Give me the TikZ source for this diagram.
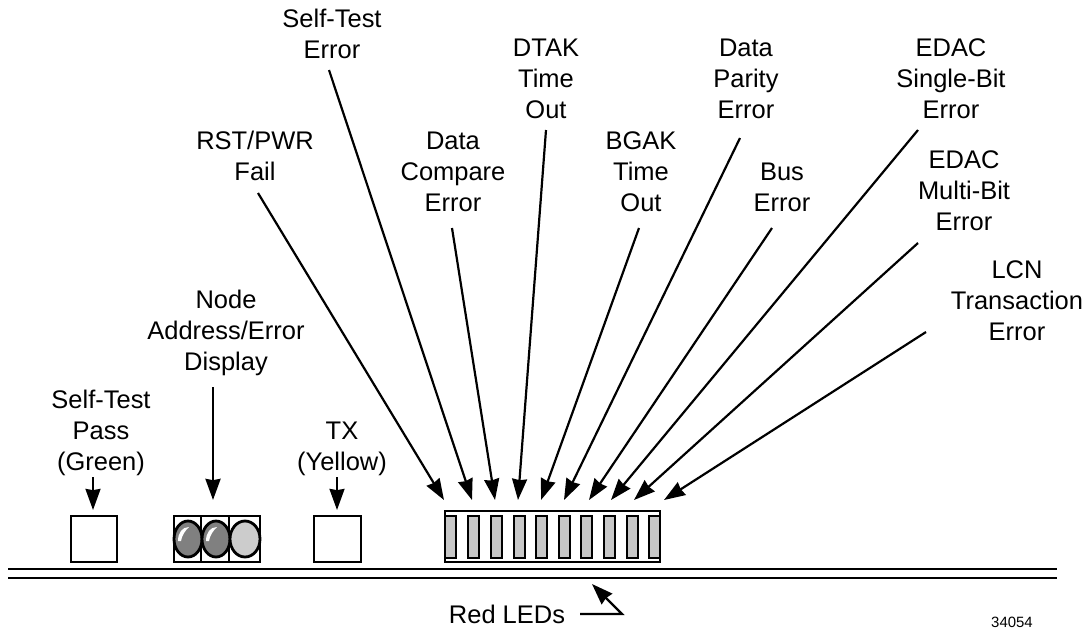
\documentclass[tikz,border=0pt]{standalone}
\usepackage{fontspec}
\setmainfont{Liberation Sans}
\usetikzlibrary{arrows.meta}
\tikzset{
  lab/.style={align=center,inner sep=0pt,anchor=base,font=\fontsize{14.5}{17.4}\selectfont},
  lead/.style={line width=1.25pt,-{Stealth[length=12pt,width=8.5pt,inset=0.7pt]}},
  outl/.style={draw=black,line width=1.25pt},
  ledbar/.style={outl,fill=black!22,line width=1.4pt},
  lamp/.style={outl,line width=1.6pt}
}
\begin{document}
\begin{tikzpicture}[x=0.02cm,y=-0.02cm]
\useasboundingbox (0,0) rectangle (1092,630);
%% labels
\node[lab] (selfpass) at (101,470) {Self-Test\\Pass\\(Green)};
\node[lab] (display) at (226,370) {Node\\Address/Error\\Display};
\node[lab] (tx) at (342,470) {TX\\(Yellow)};
\node[lab] (rstfail) at (255,180) {RST/PWR\\Fail};
\node[lab] (selferr) at (332,58) {Self-Test\\Error};
\node[lab] (compare) at (453,211) {Data\\Compare\\Error};
\node[lab] (dtak) at (546,118) {DTAK\\Time\\Out};
\node[lab] (bgak) at (641,211) {BGAK\\Time\\Out};
\node[lab] (parity) at (746,118) {Data\\Parity\\Error};
\node[lab] (buserr) at (782,211) {Bus\\Error};
\node[lab] (single) at (951,118) {EDAC\\Single-Bit\\Error};
\node[lab] (multi) at (964,230) {EDAC\\Multi-Bit\\Error};
\node[lab] (lcn) at (1017,340) {LCN\\Transaction\\Error};
\node[lab] (redleds) at (507,623) {Red LEDs};
\node[inner sep=0pt,anchor=base,font=\fontsize{8.5}{10}\selectfont] (partno) at (1012,627) {34054};
%% line ends
\coordinate (rstT) at (258,193);
\coordinate (rstH) at (444,500);
\coordinate (selfT) at (329,70);
\coordinate (selfH) at (472,500);
\coordinate (compT) at (452,228);
\coordinate (compH) at (495,500);
\coordinate (dtakT) at (546,130);
\coordinate (dtakH) at (518,500);
\coordinate (bgakT) at (639,228);
\coordinate (bgakH) at (541,500);
\coordinate (parT) at (740,138);
\coordinate (parH) at (564,500);
\coordinate (busT) at (772,228);
\coordinate (busH) at (589,500);
\coordinate (singT) at (918,130);
\coordinate (singH) at (611,500);
\coordinate (multT) at (918,243);
\coordinate (multH) at (634,500);
\coordinate (lcnT) at (926,332);
\coordinate (lcnH) at (664,500);
\coordinate (passT) at (93,477);
\coordinate (passH) at (93,510);
\coordinate (dispT) at (213,387);
\coordinate (dispH) at (213,500);
\coordinate (txT) at (337,477);
\coordinate (txH) at (337,510);
\coordinate (redT) at (580,614);
\coordinate (redB) at (622,614);
\coordinate (redH) at (592,584);
%% arrows
\draw[lead] (rstT) -- (rstH);
\draw[lead] (selfT) -- (selfH);
\draw[lead] (compT) -- (compH);
\draw[lead] (dtakT) -- (dtakH);
\draw[lead] (bgakT) -- (bgakH);
\draw[lead] (parT) -- (parH);
\draw[lead] (busT) -- (busH);
\draw[lead] (singT) -- (singH);
\draw[lead] (multT) -- (multH);
\draw[lead] (lcnT) -- (lcnH);
\draw[lead] (passT) -- (passH);
\draw[lead,line width=1.5pt] (dispT) -- (dispH);
\draw[lead] (txT) -- (txH);
\draw[lead] (redT) -- (redB) -- (redH);
%% panel edge
\draw[line width=1.3pt] (8,569) -- (1057,569);
\draw[line width=1.3pt] (8,578) -- (1057,578);
%% lamps
\draw[outl] (71,516) rectangle (117,562);
\draw[outl] (314,516) rectangle (361,562);
\draw[outl] (174,516) rectangle (260,562);
\draw[outl] (201,516) -- (201,562);
\draw[outl] (229,516) -- (229,562);
\draw[lamp,fill=black!50] (188,539) ellipse (14 and 18);
\draw[lamp,fill=black!50] (216,539) ellipse (14 and 18);
\draw[lamp,fill=black!20] (245,539) ellipse (15 and 18);
\fill[white] (178,541) .. controls (178,533) and (182,527) .. (189,527) .. controls (185,531) and (182,535) .. (181,541) -- cycle;
\fill[white] (206,541) .. controls (206,533) and (210,527) .. (217,527) .. controls (213,531) and (210,535) .. (209,541) -- cycle;
%% led block
\draw[outl] (445,511) rectangle (660,562);
\draw[ledbar] (445,516) rectangle (456,558);
\draw[ledbar] (468,516) rectangle (479,558);
\draw[ledbar] (491,516) rectangle (502,558);
\draw[ledbar] (514,516) rectangle (525,558);
\draw[ledbar] (536,516) rectangle (547,558);
\draw[ledbar] (559,516) rectangle (570,558);
\draw[ledbar] (581,516) rectangle (592,558);
\draw[ledbar] (604,516) rectangle (615,558);
\draw[ledbar] (627,516) rectangle (638,558);
\draw[ledbar] (649,516) rectangle (660,558);
\end{tikzpicture}
\end{document}
